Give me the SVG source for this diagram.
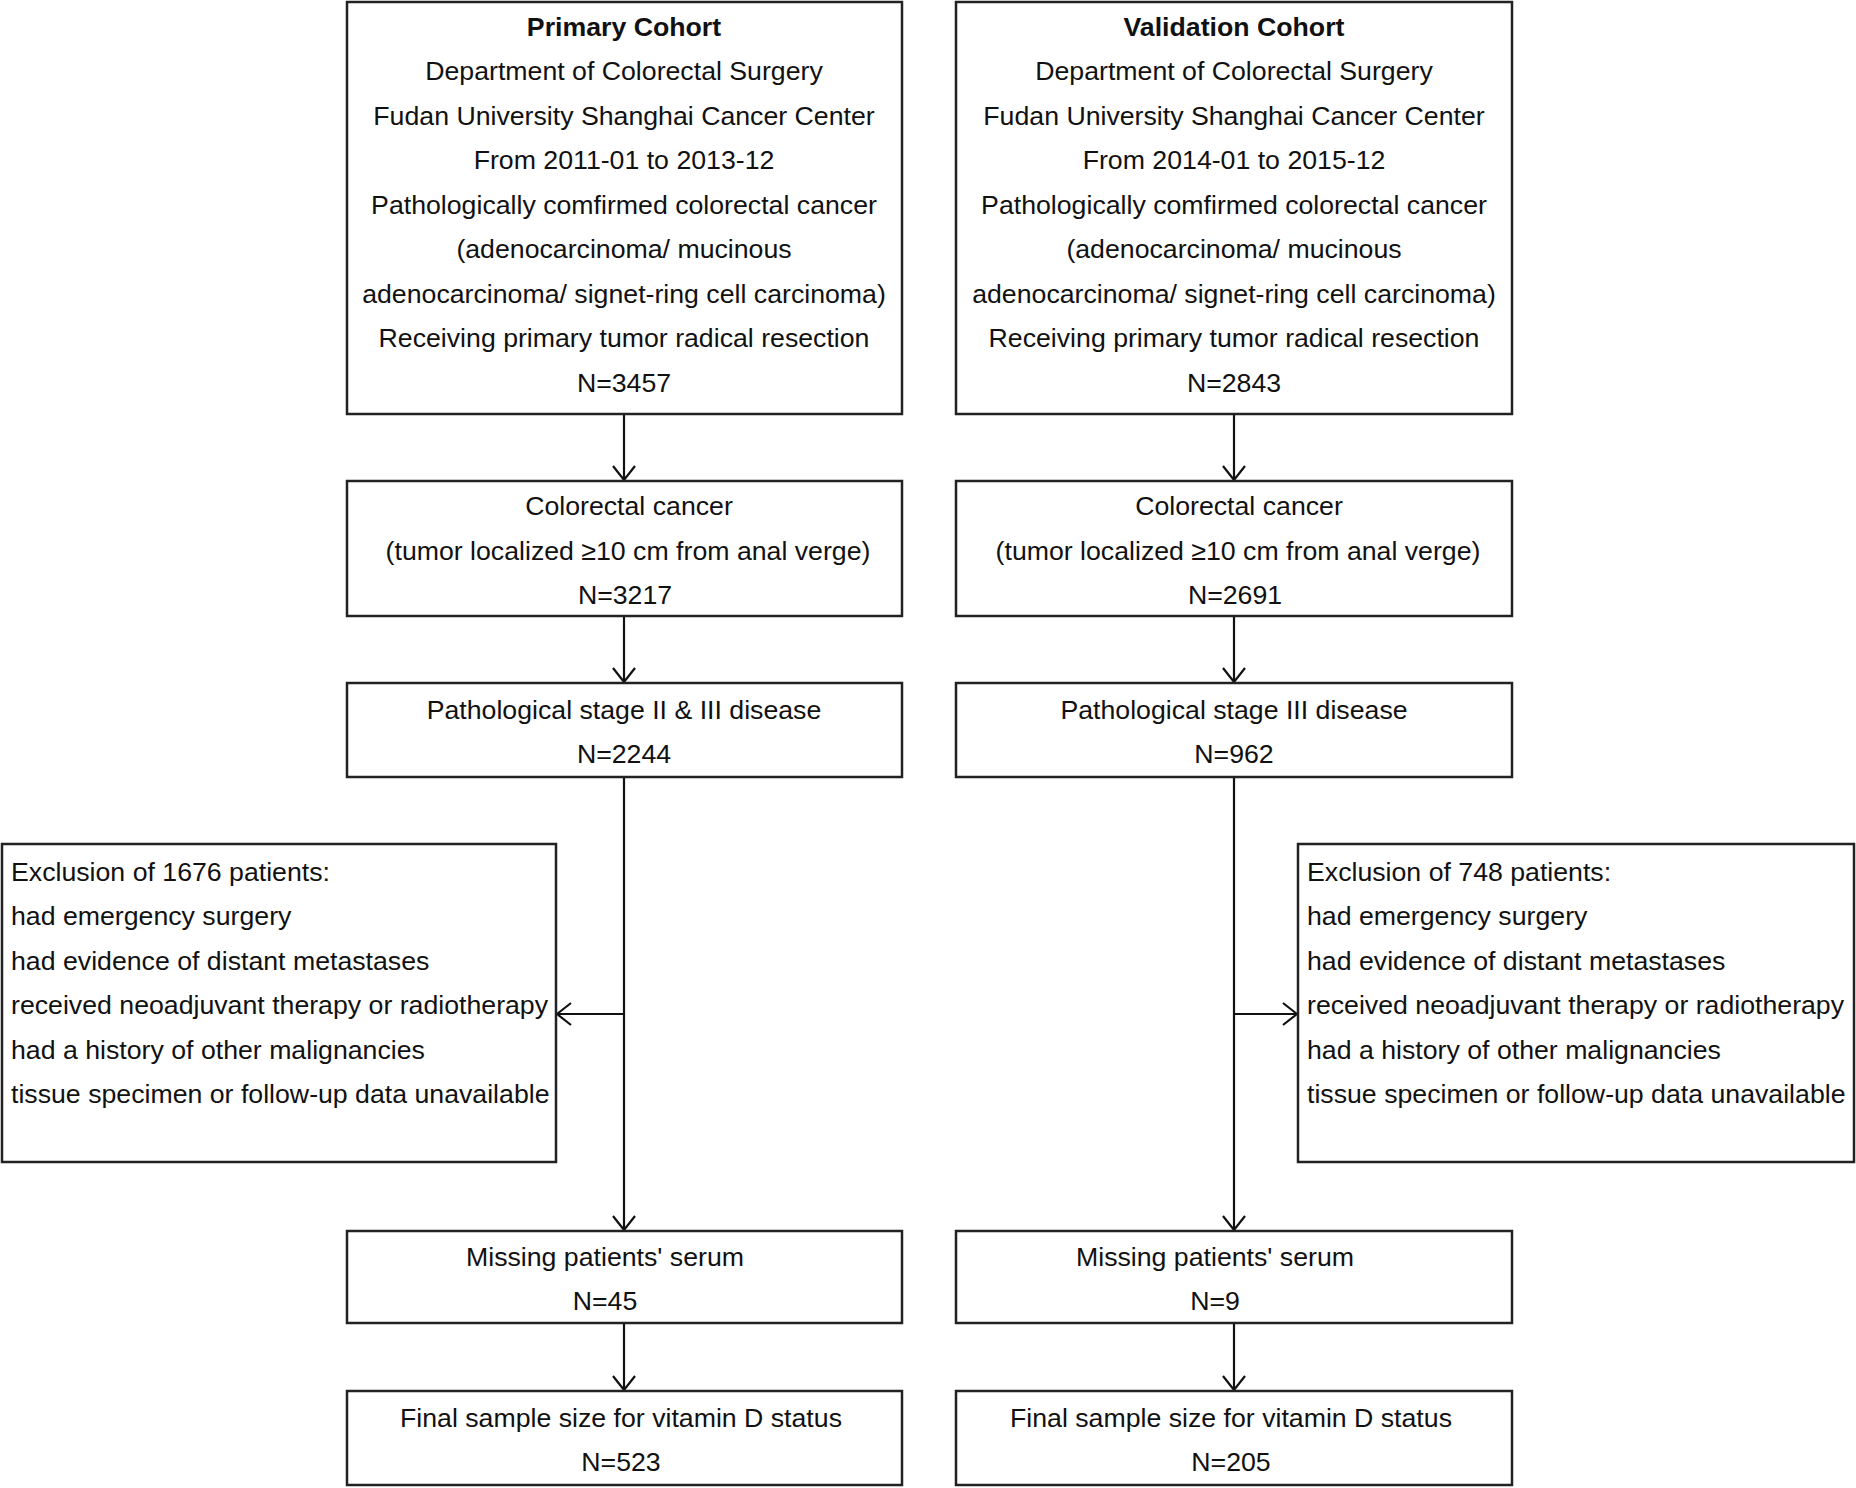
<svg xmlns="http://www.w3.org/2000/svg" width="1856" height="1488" viewBox="0 0 1856 1488">
<style>
.box{fill:#fff;stroke:#222;stroke-width:2.5}
.t{font-family:"Liberation Sans",Arial,sans-serif;font-size:26.7px;fill:#111;text-anchor:middle}
.l{font-family:"Liberation Sans",Arial,sans-serif;font-size:26.7px;fill:#111;text-anchor:start}
.b{font-weight:bold}
.c{fill:none;stroke:#111;stroke-width:2.2}
</style>
<defs>
<marker id="ah" viewBox="0 0 16 24" refX="15" refY="12" markerWidth="16" markerHeight="24" markerUnits="userSpaceOnUse" orient="auto">
<path d="M1,1 L15,12 L1,23" fill="none" stroke="#111" stroke-width="2.2"/>
</marker>
</defs>
<rect width="1856" height="1488" fill="#fff"/>
<g id="connectors">
<line class="c" x1="624" y1="414" x2="624" y2="480" marker-end="url(#ah)"/>
<line class="c" x1="624" y1="616" x2="624" y2="682" marker-end="url(#ah)"/>
<line class="c" x1="624" y1="777" x2="624" y2="1230" marker-end="url(#ah)"/>
<line class="c" x1="624" y1="1014" x2="557" y2="1014" marker-end="url(#ah)"/>
<line class="c" x1="624" y1="1323" x2="624" y2="1390" marker-end="url(#ah)"/>
<line class="c" x1="1234" y1="414" x2="1234" y2="480" marker-end="url(#ah)"/>
<line class="c" x1="1234" y1="616" x2="1234" y2="682" marker-end="url(#ah)"/>
<line class="c" x1="1234" y1="777" x2="1234" y2="1230" marker-end="url(#ah)"/>
<line class="c" x1="1234" y1="1014" x2="1297" y2="1014" marker-end="url(#ah)"/>
<line class="c" x1="1234" y1="1323" x2="1234" y2="1390" marker-end="url(#ah)"/>
</g>
<g id="primary-cohort">
<rect class="box" x="347" y="2" width="555" height="412"/>
<text class="t b" x="624" y="35.5">Primary Cohort</text>
<text class="t" x="624" y="80">Department of Colorectal Surgery</text>
<text class="t" x="624" y="124.5">Fudan University Shanghai Cancer Center</text>
<text class="t" x="624" y="169">From 2011-01 to 2013-12</text>
<text class="t" x="624" y="213.5">Pathologically comfirmed colorectal cancer</text>
<text class="t" x="624" y="258">(adenocarcinoma/ mucinous</text>
<text class="t" x="624" y="302.5">adenocarcinoma/ signet-ring cell carcinoma)</text>
<text class="t" x="624" y="347">Receiving primary tumor radical resection</text>
<text class="t" x="624" y="391.5">N=3457</text>
</g>
<g id="validation-cohort">
<rect class="box" x="956" y="2" width="556" height="412"/>
<text class="t b" x="1234" y="35.5">Validation Cohort</text>
<text class="t" x="1234" y="80">Department of Colorectal Surgery</text>
<text class="t" x="1234" y="124.5">Fudan University Shanghai Cancer Center</text>
<text class="t" x="1234" y="169">From 2014-01 to 2015-12</text>
<text class="t" x="1234" y="213.5">Pathologically comfirmed colorectal cancer</text>
<text class="t" x="1234" y="258">(adenocarcinoma/ mucinous</text>
<text class="t" x="1234" y="302.5">adenocarcinoma/ signet-ring cell carcinoma)</text>
<text class="t" x="1234" y="347">Receiving primary tumor radical resection</text>
<text class="t" x="1234" y="391.5">N=2843</text>
</g>
<g id="primary-crc">
<rect class="box" x="347" y="481" width="555" height="135"/>
<text class="t" x="629" y="514.5">Colorectal cancer</text>
<text class="t" x="628" y="559.5">(tumor localized ≥10 cm from anal verge)</text>
<text class="t" x="625" y="603.5">N=3217</text>
</g>
<g id="validation-crc">
<rect class="box" x="956" y="481" width="556" height="135"/>
<text class="t" x="1239" y="514.5">Colorectal cancer</text>
<text class="t" x="1238" y="559.5">(tumor localized ≥10 cm from anal verge)</text>
<text class="t" x="1235" y="603.5">N=2691</text>
</g>
<g id="primary-stage">
<rect class="box" x="347" y="683" width="555" height="94"/>
<text class="t" x="624" y="718.5">Pathological stage II &amp; III disease</text>
<text class="t" x="624" y="762.5">N=2244</text>
</g>
<g id="validation-stage">
<rect class="box" x="956" y="683" width="556" height="94"/>
<text class="t" x="1234" y="718.5">Pathological stage III disease</text>
<text class="t" x="1234" y="762.5">N=962</text>
</g>
<g id="primary-exclusion">
<rect class="box" x="2" y="844" width="554" height="318"/>
<text class="l" x="11" y="880.5">Exclusion of 1676 patients:</text>
<text class="l" x="11" y="925">had emergency surgery</text>
<text class="l" x="11" y="969.5">had evidence of distant metastases</text>
<text class="l" x="11" y="1014">received neoadjuvant therapy or radiotherapy</text>
<text class="l" x="11" y="1058.5">had a history of other malignancies</text>
<text class="l" x="11" y="1103">tissue specimen or follow-up data unavailable</text>
</g>
<g id="validation-exclusion">
<rect class="box" x="1298" y="844" width="556" height="318"/>
<text class="l" x="1307" y="880.5">Exclusion of 748 patients:</text>
<text class="l" x="1307" y="925">had emergency surgery</text>
<text class="l" x="1307" y="969.5">had evidence of distant metastases</text>
<text class="l" x="1307" y="1014">received neoadjuvant therapy or radiotherapy</text>
<text class="l" x="1307" y="1058.5">had a history of other malignancies</text>
<text class="l" x="1307" y="1103">tissue specimen or follow-up data unavailable</text>
</g>
<g id="primary-missing">
<rect class="box" x="347" y="1231" width="555" height="92"/>
<text class="t" x="605" y="1265.5">Missing patients' serum</text>
<text class="t" x="605" y="1309.5">N=45</text>
</g>
<g id="validation-missing">
<rect class="box" x="956" y="1231" width="556" height="92"/>
<text class="t" x="1215" y="1265.5">Missing patients' serum</text>
<text class="t" x="1215" y="1309.5">N=9</text>
</g>
<g id="primary-final">
<rect class="box" x="347" y="1391" width="555" height="94"/>
<text class="t" x="621" y="1426.5">Final sample size for vitamin D status</text>
<text class="t" x="621" y="1470.5">N=523</text>
</g>
<g id="validation-final">
<rect class="box" x="956" y="1391" width="556" height="94"/>
<text class="t" x="1231" y="1426.5">Final sample size for vitamin D status</text>
<text class="t" x="1231" y="1470.5">N=205</text>
</g>
</svg>
